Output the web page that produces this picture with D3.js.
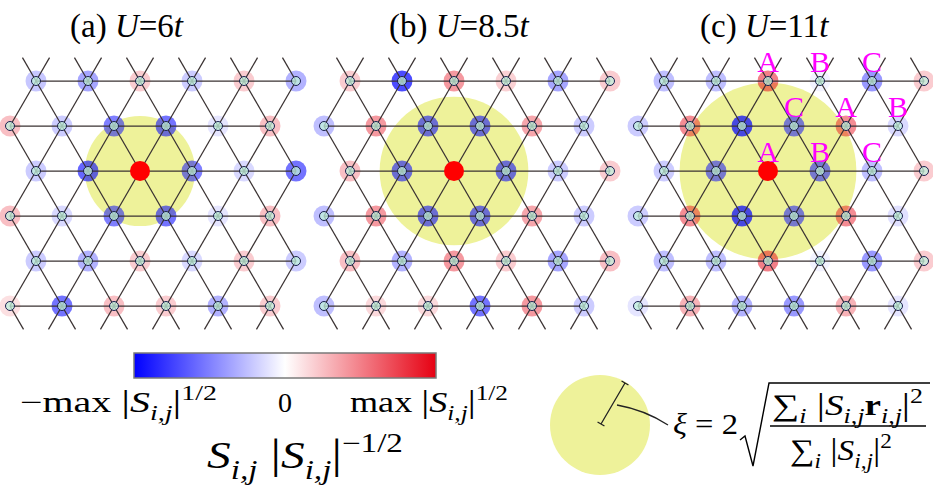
<!DOCTYPE html>
<html><head><meta charset="utf-8">
<script src="https://cdn.jsdelivr.net/npm/d3@7"></script>
<style>body{margin:0;background:#fff}svg{display:block}</style>
</head><body>
<svg id="chart" width="933" height="501"></svg>
<script>
// ---------- data ----------
const panelLabels = ["(a) ", "(b) ", "(c) "];
const panelU = ["6", "8.5", "11"];
// correlation (signed, normalised S|S|^-1/2 / max) for 6 rows x 6 columns; null = reference site
const corrA = [
  [-0.22, -0.35, 0.20, -0.20, 0.20, -0.30],
  [ 0.25, -0.20, -0.50, -0.55, -0.10, 0.25],
  [-0.20, -0.60, null, -0.50, -0.15, -0.55],
  [ 0.25, -0.15, -0.50, -0.55, -0.10, 0.25],
  [-0.20, -0.30, 0.20, -0.15, 0.20, -0.20],
  [ 0.12, -0.55, 0.25, 0.20, -0.30, 0.20]
];
const corrB = [
  [ 0.20, -0.70, 0.40, 0.18, -0.35, 0.20],
  [-0.25, 0.40, -0.55, -0.55, 0.35, -0.20],
  [ 0.25, -0.55, null, -0.55, -0.20, 0.20],
  [-0.25, 0.40, -0.55, -0.55, 0.35, -0.20],
  [ 0.25, -0.30, 0.40, 0.20, -0.35, 0.25],
  [-0.25, 0.15, 0.15, -0.55, 0.40, -0.20]
];
const corrC = [
  [-0.25, -0.25, 0.50, -0.05, -0.40, 0.20],
  [-0.20, 0.45, -0.70, -0.50, 0.45, -0.15],
  [-0.20, -0.50, null, -0.50, -0.25, 0.20],
  [-0.20, 0.45, -0.70, -0.50, 0.45, -0.12],
  [-0.25, -0.25, 0.50, -0.05, -0.40, 0.20],
  [-0.10, 0.30, -0.30, -0.40, 0.30, -0.10]
];
const panelData = [corrA, corrB, corrC];
// correlation length radius in lattice units
const xiRadius = [1.06, 1.43, 1.70];
// sublattice labels in panel (c)
const labelRows = [0, 0, 0, 1, 1, 1, 2, 2, 2];
const labelCols = [2, 3, 4, 3, 4, 5, 2, 3, 4];
const labelTexts = ["A", "B", "C", "C", "A", "B", "A", "B", "C"];
// colourbar tick positions
const cbarTicks = [-1, 0, 1];

// ---------- layout ----------
const svg = d3.select("#chart");
const nRows = 6, nCols = 6;
const panelOffset = 314;
const yScale = d3.scaleLinear().domain([0, 1]).range([81, 126]);
const xScales = [0, 1, 2].map(p => d3.scaleLinear().domain([0, 1]).range([10 + panelOffset * p, 62 + panelOffset * p]));
const uOf = (i, j) => j + ((i % 2 + 2) % 2 === 0 ? 0.5 : 0);

const blue = "#0000ff", red = "#e60012";
const cmap = d3.scaleLinear().domain([-1, 0, 1]).range([blue, "#ffffff", red]);
const yellow = "#eef29a";
const serif = "'Liberation Serif','Times New Roman',serif";

// rich text helper (sub/superscripts via dy)
function rich(sel, x, y, parts, size, anchor) {
  const t = sel.append("text").attr("x", x).attr("y", y)
    .attr("font-family", serif).attr("font-size", size)
    .attr("text-anchor", anchor || "start").attr("fill", "#000");
  let shift = 0;
  parts.forEach(p => {
    const s = t.append("tspan").text(p.t);
    let target = 0, fs = size;
    if (p.sub) { target = size * 0.28; fs = size * 0.7; }
    if (p.sup) { target = -size * 0.42; fs = size * 0.7; }
    if (p.size) fs = p.size;
    s.attr("dy", target - shift).attr("font-size", fs);
    shift = target;
    if (p.i) s.attr("font-style", "italic");
    if (p.b) s.attr("font-weight", "bold");
    if (p.dx) s.attr("dx", p.dx);
  });
  return t;
}
// stretch a text horizontally to span [x0, x1]
function fit(t, x0, x1) {
  const bb = t.node().getBBox();
  const sx = (x1 - x0) / bb.width;
  t.attr("transform", `translate(${x0},0) scale(${sx},1) translate(${-bb.x},0)`);
}

// ---------- panels ----------
panelData.forEach((data, p) => {
  const xs = xScales[p];
  const g = svg.append("g");
  const cx = xs(uOf(2, 2)), cy = yScale(2);
  const unit = xs(1) - xs(0);

  g.append("circle").attr("cx", cx).attr("cy", cy)
    .attr("r", xiRadius[p] * unit).attr("fill", yellow);

  const nodes = [];
  data.forEach((row, i) => row.forEach((v, j) => nodes.push({ i, j, v, x: xs(uOf(i, j)), y: yScale(i) })));

  g.selectAll(".halo").data(nodes.filter(d => d.v !== null)).join("circle")
    .attr("cx", d => d.x).attr("cy", d => d.y).attr("r", 10.5)
    .attr("fill", d => d.v < 0 ? blue : red)
    .attr("fill-opacity", d => Math.abs(d.v));

  const bonds = [];
  for (let i = 0; i < nRows; i++) for (let j = 0; j < nCols - 1; j++)
    bonds.push([uOf(i, j), i, uOf(i, j + 1), i, 1]);
  for (let i = -1; i < nRows; i++) {
    for (let j = 0; j < nCols; j++) {
      const even = ((i % 2) + 2) % 2 === 0;
      const targets = even ? [j, j + 1] : [j - 1, j];
      targets.forEach(k => {
        if (k < 0 || k >= nCols) return;
        const a = [uOf(i, j), i], b = [uOf(i + 1, k), i + 1];
        if (i === -1) bonds.push([b[0], b[1], a[0], a[1], 0.52]);
        else if (i + 1 === nRows) bonds.push([a[0], a[1], b[0], b[1], 0.52]);
        else bonds.push([a[0], a[1], b[0], b[1], 1]);
      });
    }
  }
  g.selectAll(".bond").data(bonds).join("line")
    .attr("x1", d => xs(d[0])).attr("y1", d => yScale(d[1]))
    .attr("x2", d => xs(d[0] + (d[2] - d[0]) * d[4])).attr("y2", d => yScale(d[1] + (d[3] - d[1]) * d[4]))
    .attr("stroke", "#3a3232").attr("stroke-width", 1.25);

  g.selectAll(".site").data(nodes.filter(d => d.v !== null)).join("circle")
    .attr("cx", d => d.x).attr("cy", d => d.y).attr("r", 4.5)
    .attr("fill", "#c0f2dc").attr("fill-opacity", 0.75)
    .attr("stroke", "#1c2050").attr("stroke-width", 1);

  g.append("circle").attr("cx", cx).attr("cy", cy).attr("r", 10).attr("fill", "#ff0000");

  const t = g.append("text").attr("x", 70 + panelOffset * p + (p === 2 ? 2 : 0) + (p === 1 ? 5 : 0)).attr("y", 37)
    .attr("font-family", serif).attr("font-size", 33);
  t.append("tspan").text(panelLabels[p]);
  t.append("tspan").text("U").attr("font-style", "italic");
  t.append("tspan").text("=" + panelU[p]);
  t.append("tspan").text("t").attr("font-style", "italic");

  if (p === 2) {
    g.selectAll(".lab").data(labelTexts.map((s, k) => ({ s, i: labelRows[k], j: labelCols[k] }))).join("text")
      .attr("x", d => xs(uOf(d.i, d.j))).attr("y", d => yScale(d.i) - 9)
      .attr("text-anchor", "middle").attr("font-family", serif).attr("font-size", 30)
      .attr("fill", "#ff00ff").text(d => d.s);
  }
});

// ---------- colourbar ----------
const cb = svg.append("g");
const cbX = d3.scaleLinear().domain([-1, 1]).range([134, 436]);
const grad = svg.append("defs").append("linearGradient").attr("id", "cbg");
d3.range(0, 1.0001, 0.1).forEach(f => grad.append("stop")
  .attr("offset", f).attr("stop-color", cmap(-1 + 2 * f)));
cb.append("rect").attr("x", cbX(-1)).attr("y", 353).attr("width", cbX(1) - cbX(-1)).attr("height", 25)
  .attr("fill", "url(#cbg)").attr("stroke", "#7a7a7a").attr("stroke-width", 1.5);

const absS = [{ t: "|", size: 32 }, { t: "S", i: true }, { t: "i,j", i: true, sub: true }, { t: "|", size: 32 }];
fit(rich(cb, 20, 412, [{ t: "−max " }].concat(absS, [{ t: "1/2", sup: true }]), 29, "start"), 20, 217);
rich(cb, cbX(cbarTicks[1]), 412, [{ t: "0" }], 28, "middle");
fit(rich(cb, 350, 412, [{ t: "max " }].concat(absS, [{ t: "1/2", sup: true }]), 29, "start"), 350, 508);
fit(rich(cb, 207, 468, [{ t: "S", i: true }, { t: "i,j", i: true, sub: true }, { t: " |", size: 42 }, { t: "S", i: true }, { t: "i,j", i: true, sub: true }, { t: "|", size: 42 }, { t: "−1/2", sup: true }], 38, "start"), 207, 403);

// ---------- xi legend ----------
const lg = svg.append("g");
lg.append("circle").attr("cx", 600).attr("cy", 425).attr("r", 50).attr("fill", yellow);
const ang = Math.atan2(-41, 24), L = 47.5, c = 4;
const ex = 601 + L * Math.cos(ang), ey = 424 + L * Math.sin(ang);
const px = -Math.sin(ang) * c, py = Math.cos(ang) * c;
lg.append("path").attr("d",
  `M601,424L${ex},${ey}M${601 - px},${424 - py}L${601 + px},${424 + py}M${ex - px},${ey - py}L${ex + px},${ey + py}`)
  .attr("stroke", "#222").attr("stroke-width", 1.3).attr("fill", "none");
lg.append("path").attr("d", "M617,405Q645,410 668,425").attr("stroke", "#222").attr("stroke-width", 1.3).attr("fill", "none");
fit(rich(lg, 673, 434, [{ t: "ξ", i: true }, { t: " = 2" }], 30, "start"), 673, 738);
lg.append("path").attr("d", "M740,440L745,436L753,466L769,383L930,383")
  .attr("stroke", "#000").attr("stroke-width", 1.4).attr("fill", "none");
lg.append("line").attr("x1", 770).attr("x2", 926).attr("y1", 426).attr("y2", 426).attr("stroke", "#000").attr("stroke-width", 1.3);
fit(rich(lg, 770, 415, [{ t: "∑", size: 30 }, { t: "i", i: true, sub: true }, { t: " |", size: 32 }, { t: "S", i: true }, { t: "i,j", i: true, sub: true }, { t: "r", b: true }, { t: "i,j", i: true, sub: true }, { t: "|", size: 32 }, { t: "2", sup: true }], 29, "start"), 772, 923);
fit(rich(lg, 790, 460, [{ t: "∑", size: 30 }, { t: "i", i: true, sub: true }, { t: " |", size: 32 }, { t: "S", i: true }, { t: "i,j", i: true, sub: true }, { t: "|", size: 32 }, { t: "2", sup: true }], 29, "start"), 790, 892);
</script>
</body></html>
